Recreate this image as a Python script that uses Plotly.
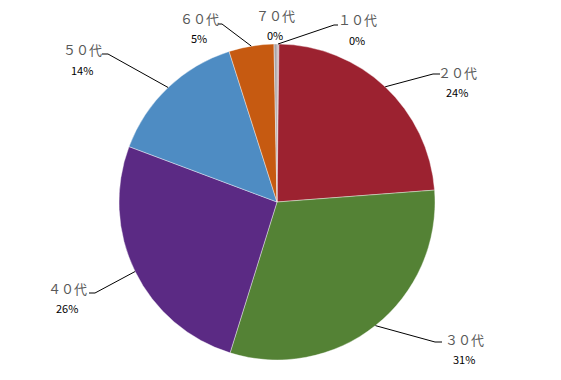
import numpy as np
import plotly.graph_objects as go

categories = ["１０代", "２０代", "３０代", "４０代", "５０代", "６０代", "７０代"]
values = [0.2, 23.6, 31.0, 25.9, 14.4, 4.6, 0.3]
pct_labels = ["0%", "24%", "31%", "26%", "14%", "5%", "0%"]
colors = ["#B8A6AC", "#9C2230", "#548235", "#5B2A84", "#4E8CC3", "#C65A11", "#A9A4A8"]

W, H = 561, 380
CX, CY, R = 277, 202, 158

# label anchor (text centre, px) and leader elbow/end (px); None = no leader
label_pos = [(357, 20), (457, 72), (464, 339), (67, 288), (82, 50), (199, 18), (275, 15)]
leader = [((334, 25), (338, 25)), ((433, 74), (440, 74)), ((435, 342), (442, 342)),
          ((95, 293), (89, 293)), ((108, 54), (102, 54)), ((222, 24), (218, 24)), None]

fig = go.Figure()
fig.add_trace(go.Pie(
    labels=categories, values=values, sort=False, direction="clockwise", rotation=0,
    marker=dict(colors=colors, line=dict(color="white", width=0.4)),
    textinfo="none", hoverinfo="label+percent", showlegend=False,
    domain=dict(x=[(CX - R) / W, (CX + R) / W], y=[(H - CY - R) / H, (H - CY + R) / H]),
))

vals = np.array(values, dtype=float)
frac = vals / vals.sum()
cum = np.cumsum(frac) - frac / 2
shapes, annotations = [], []
for i, cat in enumerate(categories):
    ang = cum[i] * 2 * np.pi
    ex, ey = CX + R * np.sin(ang), CY - R * np.cos(ang)
    if leader[i] is not None:
        (bx, by), (fx, fy) = leader[i]
        path = f"M {ex/W} {1-ey/H} L {bx/W} {1-by/H} L {fx/W} {1-fy/H}"
        shapes.append(dict(type="path", xref="paper", yref="paper", path=path,
                           line=dict(color="black", width=1)))
    lx, ly = label_pos[i]
    annotations.append(dict(x=lx / W, y=1 - ly / H, xref="paper", yref="paper",
                            text=cat, showarrow=False, xanchor="center", yanchor="middle",
                            font=dict(family="Noto Sans CJK JP", size=13, color="#595959")))
    annotations.append(dict(x=lx / W, y=1 - (ly + 20) / H, xref="paper", yref="paper",
                            text=pct_labels[i], showarrow=False, xanchor="center", yanchor="middle",
                            font=dict(family="Noto Sans CJK JP", size=11, color="#000000")))

fig.update_layout(width=W, height=H, margin=dict(l=0, r=0, t=0, b=0),
                  paper_bgcolor="white", plot_bgcolor="white",
                  shapes=shapes, annotations=annotations)
fig.write_html("out.html", config={"displayModeBar": False},
               post_script="document.body.style.margin='0';")
